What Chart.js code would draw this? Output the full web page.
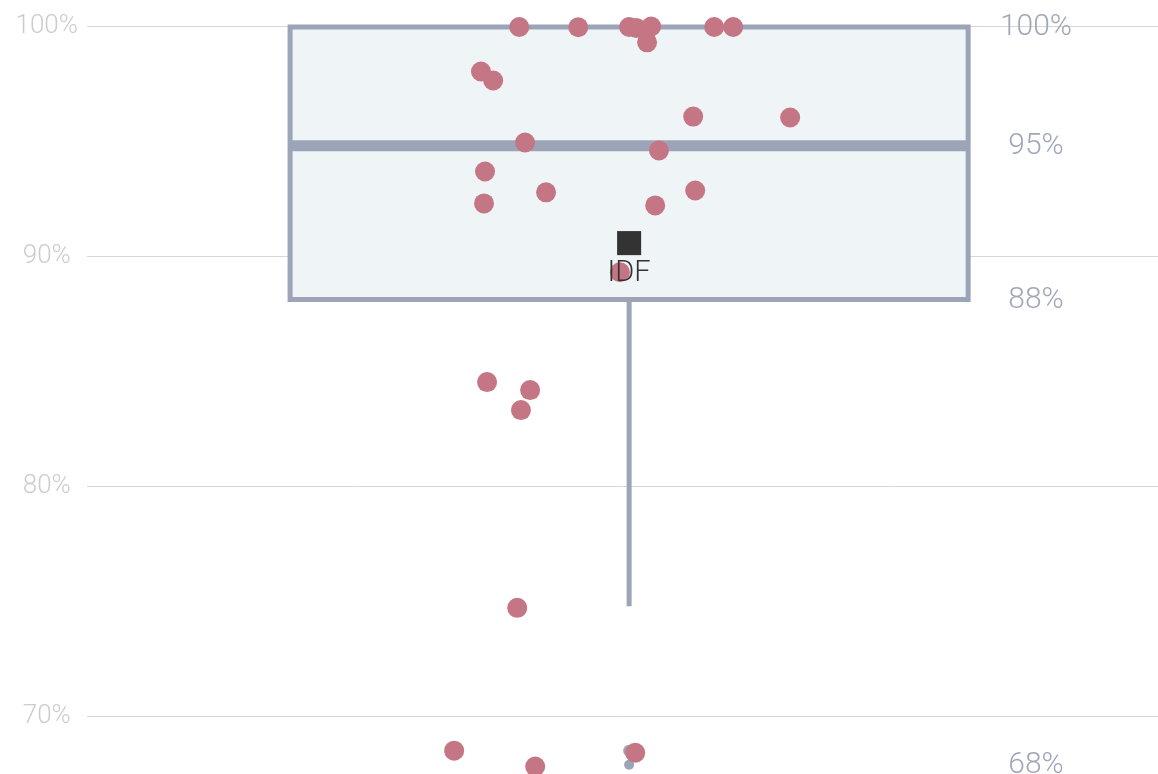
<!DOCTYPE html>
<html>
<head>
<meta charset="utf-8">
<script src="https://cdn.jsdelivr.net/npm/chart.js@4.4.0/dist/chart.umd.min.js"></script>
<style>
  html, body { margin: 0; padding: 0; background: #fff; }
  #wrap { width: 1158px; height: 774px; }
</style>
</head>
<body>
<div id="wrap"><canvas id="grafico" width="1158" height="774"></canvas></div>
<script>
// ================== Datos ==================
const Y_TICKS = [70, 80, 90, 100];

// caja: cuartiles, mediana, bigote inferior
const Q1 = 88.13;
const MEDIANA = 94.83;
const Q3 = 100;
const BIGOTE_INF = 74.78;

// etiquetas a la derecha de la caja
const RESUMEN_VALORES = [100, 94.83, 88.13, 67.91];
const RESUMEN_TEXTOS = ["100%", "95%", "88%", "68%"];

// puntos (x = desplazamiento horizontal, y = %)
const PUNTOS_X = [-0.324, -0.150, 0.000, 0.021, 0.065, 0.251, 0.307, 0.053, -0.437, -0.401,
                  0.189, 0.475, -0.307, 0.088, -0.425, -0.245, 0.195, -0.428, 0.077, -0.027,
                  -0.419, -0.292, -0.319, -0.330, -0.516, 0.018, -0.277];
const PUNTOS_Y = [100, 99.99, 100, 99.96, 100.02, 100, 100, 99.33, 98.06, 97.67,
                  96.10, 96.06, 94.97, 94.62, 93.71, 92.80, 92.88, 92.32, 92.23, 89.32,
                  84.54, 84.19, 83.32, 74.71, 68.49, 68.40, 67.80];

// valores atípicos de la caja
const ATIPICOS_Y = [68.49, 67.88];
const ATIPICOS_R = [6, 5];

// referencia
const REF_NOMBRE = "IDF";
const REF_Y = 90.59;

// ================== Estilos ==================
const GRIS_CAJA = "#9ca4b7";
const ROSA = "#c47684";
const FUENTE = "Roboto, 'Open Sans', sans-serif";

const xy = (xs, ys) => xs.map((x, i) => ({ x, y: ys[i] }));

// ================== Plugin de textos ==================
const textos = {
  id: "textos",
  afterDatasetsDraw(chart) {
    const { ctx, scales } = chart;
    const y = scales.y;
    ctx.save();
    ctx.textAlign = "center";
    ctx.textBaseline = "middle";
    ctx.fillStyle = "#a0a7b9";
    ctx.font = "300 30px " + FUENTE;
    RESUMEN_VALORES.forEach((v, i) => {
      ctx.fillText(RESUMEN_TEXTOS[i], 1036, y.getPixelForValue(v) + 1);
    });
    ctx.fillStyle = "#333333";
    ctx.font = "300 29px " + FUENTE;
    ctx.fillText(REF_NOMBRE, scales.x.getPixelForValue(0), y.getPixelForValue(REF_Y) + 31);
    ctx.restore();
  }
};

// ================== Gráfica ==================
const canvas = document.getElementById("grafico");
const chart = new Chart(canvas.getContext("2d"), {
  type: "scatter",
  data: {
    datasets: [
      { // referencia
        data: [{ x: 0, y: REF_Y }],
        pointStyle: "rect", pointRadius: 17, pointHoverRadius: 17,
        backgroundColor: "#333333", borderWidth: 0
      },
      { // puntos
        data: xy(PUNTOS_X, PUNTOS_Y),
        pointRadius: 10, pointHoverRadius: 10,
        backgroundColor: ROSA, borderWidth: 0
      },
      { // atípicos
        data: ATIPICOS_Y.map(v => ({ x: 0, y: v })),
        pointRadius: ATIPICOS_R, pointHoverRadius: ATIPICOS_R,
        backgroundColor: GRIS_CAJA, borderWidth: 0
      },
      { // bigote
        data: [{ x: 0, y: Q1 }, { x: 0, y: BIGOTE_INF }],
        showLine: true, pointRadius: 0, borderColor: GRIS_CAJA, borderWidth: 5
      },
      { // mediana
        data: [{ x: -1, y: MEDIANA }, { x: 1, y: MEDIANA }],
        showLine: true, pointRadius: 0, borderColor: GRIS_CAJA, borderWidth: 11
      },
      { // contorno de la caja
        data: [{ x: 0, y: Q1 }, { x: 1, y: Q1 }, { x: 1, y: Q3 }, { x: -1, y: Q3 }, { x: -1, y: Q1 }, { x: 0, y: Q1 }],
        showLine: true, pointRadius: 0, borderColor: GRIS_CAJA, borderWidth: 5,
        borderJoinStyle: "miter"
      },
      { // relleno de la caja
        data: [{ x: -1, y: Q3 }, { x: 1, y: Q3 }],
        showLine: true, pointRadius: 0, borderWidth: 0,
        fill: { target: { value: Q1 } }, backgroundColor: "#eff4f7"
      }
    ]
  },
  options: {
    responsive: false,
    animation: false,
    layout: { padding: 0, autoPadding: false },
    plugins: { legend: { display: false }, tooltip: { enabled: false } },
    scales: {
      x: { type: "linear", display: false, min: -1.599, max: 1.560 },
      y: {
        min: 67.475, max: 101.175,
        afterBuildTicks: s => { s.ticks = Y_TICKS.map(v => ({ value: v })); },
        afterFit: s => { s.width = 87; s.paddingTop = 0; s.paddingBottom = 0; },
        border: { display: false },
        grid: { color: "#d6d6d6", lineWidth: 1, drawTicks: false },
        ticks: {
          padding: 9, crossAlign: "center", color: "#cccccc",
          font: { family: FUENTE, size: 26, weight: 300 },
          callback: v => v + "%"
        }
      }
    }
  },
  plugins: [textos]
});
</script>
</body>
</html>
